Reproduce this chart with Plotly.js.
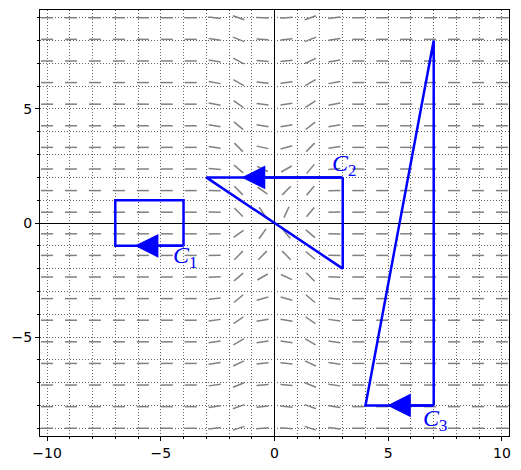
<!DOCTYPE html>
<html>
<head>
<meta charset="utf-8">
<script src="https://cdn.plot.ly/plotly-3.0.1.min.js"></script>
<style>html,body{margin:0;padding:0;background:#fff;}#chart{width:521px;height:470px;}</style>
</head>
<body>
<div id="chart"></div>
<script>
// Grid of the slope field (20 x 20 sample points)
const fieldX = [-10, -8.947, -7.895, -6.842, -5.789, -4.737, -3.684, -2.632, -1.579, -0.526,
                0.526, 1.579, 2.632, 3.684, 4.737, 5.789, 6.842, 7.895, 8.947, 10];
const fieldY = [-9, -8.053, -7.105, -6.158, -5.211, -4.263, -3.316, -2.368, -1.421, -0.474,
                0.474, 1.421, 2.368, 3.316, 4.263, 5.211, 6.158, 7.105, 8.053, 9];
// Segment angles (degrees), bottom row to top row; columns not listed are horizontal
const angleColXm2_63 = [8, 8, 8, 8, 8, 8, 5, 3, 2, 1, -1, -2, -4, -8, -10, -10, -10, -10, -8, -8];
const angleColXm1_58 = [18, 20, 22, 25, 30, 35, 40, 40, 45, 35, -45, -45, -40, -45, -40, -35, -30, -28, -22, -20];
const angleColXm0_53 = [4, 5, 5, 6, 8, 10, 15, 30, 45, 55, -55, -35, -25, -12, -9, -7, -6, -5, -4, -3];
const angleColX0_53  = [-4, -5, -5, -6, -8, -10, -15, -25, -45, -50, 65, 45, 30, 15, 10, 8, 7, 6, 5, 4];
const angleColX1_58  = [-18, -20, -22, -25, -30, -35, -40, -45, -40, -40, 50, 50, 50, 45, 38, 33, 30, 25, 22, 20];
const angleColX2_63  = [-8, -8, -8, -8, -8, -8, -5, -3, -2, -1, 1, 2, 4, 8, 10, 10, 10, 10, 8, 8];
const slantedColumns = {7: angleColXm2_63, 8: angleColXm1_58, 9: angleColXm0_53,
                        10: angleColX0_53, 11: angleColX1_58, 12: angleColX2_63};

// Curves
const c1X = [-4, -7, -7, -4, -4];
const c1Y = [-1, -1, 1, 1, -1];
const c2X = [3, -3, 3, 3];
const c2Y = [2, 2, -2, 2];
const c3X = [7, 4, 7, 7];
const c3Y = [-8, -8, 8, -8];

// Direction arrows (tail -> tip)
const arrowTailX = [-4, 3, 7];
const arrowTailY = [-1, 2, -8];
const arrowTipX = [-6.15, -1.45, 4.95];
const arrowTipY = [-1, 2, -8];

// Curve labels
const labelText = ['<i>C</i><sub>1</sub>', '<i>C</i><sub>2</sub>', '<i>C</i><sub>3</sub>'];
const labelX = [-3.95, 3.05, 7.05];
const labelY = [-1.5, 2.55, -8.65];

const xTicks = [-10, -5, 0, 5, 10];
const yTicks = [-5, 0, 5];

// Build slope-field segments
const segLen = 0.53;
const sx = [], sy = [];
for (let i = 0; i < fieldX.length; i++) {
  for (let j = 0; j < fieldY.length; j++) {
    const a = (slantedColumns[i] ? slantedColumns[i][j] : 0) * Math.PI / 180;
    const dx = segLen / 2 * Math.cos(a), dy = segLen / 2 * Math.sin(a);
    sx.push(fieldX[i] - dx, fieldX[i] + dx, null);
    sy.push(fieldY[j] - dy, fieldY[j] + dy, null);
  }
}

const blue = '#0000ff';
const traces = [
  {x: sx, y: sy, mode: 'lines', line: {color: 'rgb(128,128,128)', width: 1.5}, hoverinfo: 'skip'},
  {x: c1X, y: c1Y, mode: 'lines', line: {color: blue, width: 2.5}},
  {x: c2X, y: c2Y, mode: 'lines', line: {color: blue, width: 2.5}},
  {x: c3X, y: c3Y, mode: 'lines', line: {color: blue, width: 2.5}}
];

const annotations = [];
for (let k = 0; k < arrowTipX.length; k++) {
  annotations.push({
    x: arrowTipX[k], y: arrowTipY[k], ax: arrowTailX[k], ay: arrowTailY[k],
    xref: 'x', yref: 'y', axref: 'x', ayref: 'y', text: '', showarrow: true,
    arrowhead: 2, arrowsize: 1.9, arrowwidth: 2.5, arrowcolor: blue, standoff: 0
  });
}
for (let k = 0; k < labelText.length; k++) {
  annotations.push({
    x: labelX[k], y: labelY[k], xref: 'x', yref: 'y', text: labelText[k], showarrow: false,
    font: {family: 'Liberation Serif, serif', size: 24, color: blue},
    xanchor: 'center', yanchor: 'middle'
  });
}

const gridStyle = {showgrid: true, gridcolor: '#666', griddash: '1px,2px', gridwidth: 1};
const axisCommon = {
  showline: true, mirror: true, linecolor: 'black', linewidth: 1,
  zeroline: true, zerolinecolor: 'black', zerolinewidth: 1,
  ticks: 'outside', ticklen: 4, tickwidth: 1, tickcolor: 'black',
  tickfont: {family: 'DejaVu Sans, sans-serif', size: 14, color: 'black'},
  showgrid: true, gridcolor: '#666', griddash: '1px,2px', gridwidth: 1,
  minor: Object.assign({dtick: 1, ticks: 'outside', ticklen: 2, tickwidth: 1, tickcolor: 'black'}, gridStyle)
};

const layout = {
  width: 521, height: 470,
  margin: {l: 40, r: 12, t: 10, b: 34},
  paper_bgcolor: 'white', plot_bgcolor: 'white',
  showlegend: false,
  xaxis: Object.assign({}, axisCommon, {range: [-10.31, 10.31], tickmode: 'array', tickvals: xTicks}),
  yaxis: Object.assign({}, axisCommon, {range: [-9.34, 9.34], tickmode: 'array', tickvals: yTicks}),
  annotations: annotations
};

Plotly.newPlot('chart', traces, layout, {staticPlot: true, displayModeBar: false});
</script>
</body>
</html>
